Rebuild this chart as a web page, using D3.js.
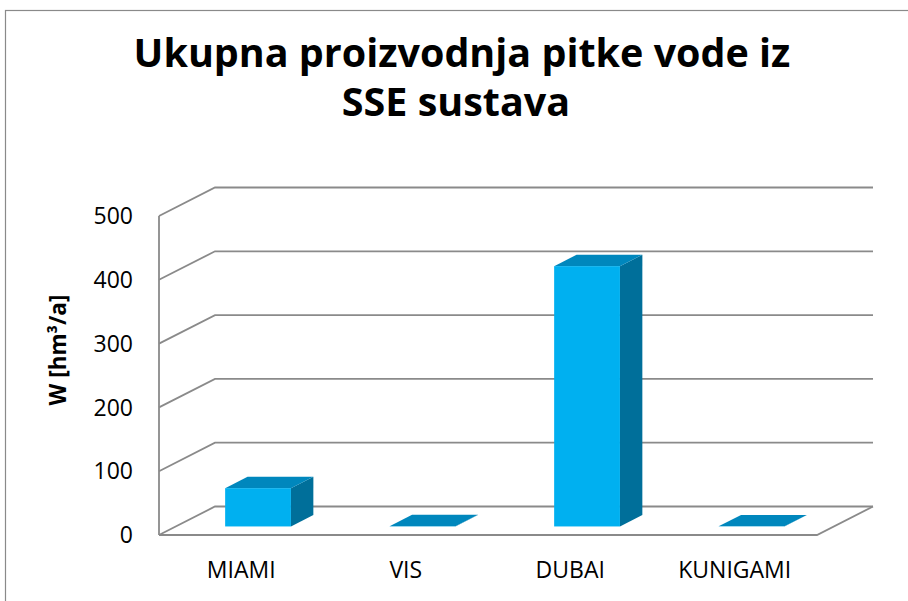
<!DOCTYPE html>
<html>
<head>
<meta charset="utf-8">
<script src="https://cdn.jsdelivr.net/npm/d3@7/dist/d3.min.js"></script>
<style>
  html, body { margin: 0; padding: 0; background: #ffffff; }
  svg { display: block; }
  text { font-family: "Open Sans", "Liberation Sans", sans-serif; fill: #000; }
</style>
</head>
<body>
<svg id="chart" width="908" height="601"></svg>
<script>
// Desalination (SSE) plants and their annual drinking-water output, hm³/a
const categories = ["MIAMI", "VIS", "DUBAI", "KUNIGAMI"];
const production = [60, 0.3, 408, 0.2];
const yTicks = [0, 100, 200, 300, 400, 500];
const titleLines = ["Ukupna proizvodnja pitke vode iz", "SSE sustava"];
const yAxisTitle = "W [hm³/a]";

const svg = d3.select("#chart");

// Plot frame (front plane) and the oblique depth vector of the 3-D box
const front = { left: 159, right: 817, top: 216, bottom: 535 };
const DX = 56, DY = -28.5;           // floor depth, projected
const barDepth = [0.3, 0.7];         // bar occupies the middle of the depth

const y = d3.scaleLinear().domain([0, 500]).range([front.bottom, front.top]);
const x = d3.scaleBand().domain(categories)
  .range([front.left, front.right]).paddingInner(0.6).paddingOuter(0.3);
const slot = d3.scaleBand().domain(categories).range([front.left, front.right]);

const gridColor = "#8a8a8a";

// Chart-area border
svg.append("rect")
  .attr("x", 5.5).attr("y", 10.5).attr("width", 1000).attr("height", 1000)
  .attr("fill", "none").attr("stroke", "#8a8a8a").attr("stroke-width", 1.2);

// Title, fitted to its line width
const title = svg.append("g");
const titleX = [462, 456], titleY = [67, 116];
titleLines.forEach((t, i) => {
  title.append("text")
    .attr("x", titleX[i]).attr("y", titleY[i])
    .attr("text-anchor", "middle")
    .attr("font-weight", 700).attr("font-size", 32)
    .text(t);
});
{
  const first = title.select("text").node();
  const fs = 32 * 657 / first.getComputedTextLength();
  title.selectAll("text").attr("font-size", fs);
}

// Walls: gridlines on the left side wall and on the back wall
const walls = svg.append("g").attr("fill", "none")
  .attr("stroke", gridColor).attr("stroke-width", 1.8);
yTicks.forEach(v => {
  walls.append("polyline").attr("points", [
    [front.left, y(v)],
    [front.left + DX, y(v) + DY],
    [front.right + DX, y(v) + DY]
  ].map(p => p.join(",")).join(" "));
});

// Floor outline and the vertical value axis
walls.append("polyline").attr("points", [
  [front.left, y(0)], [front.right, y(0)], [front.right + DX, y(0) + DY]
].map(p => p.join(",")).join(" "));
walls.append("line")
  .attr("x1", front.left).attr("x2", front.left)
  .attr("y1", y(500)).attr("y2", y(0));

// Value tick labels
svg.append("g").selectAll("text").data(yTicks).join("text")
  .attr("x", 133).attr("y", d => y(d))
  .attr("dy", "0.36em")
  .attr("text-anchor", "end")
  .attr("font-size", 23)
  .text(d => d);

// Axis title
svg.append("text")
  .attr("transform", "translate(66,350) rotate(-90)")
  .attr("text-anchor", "middle")
  .attr("font-weight", 700).attr("font-size", 22.5)
  .text(yAxisTitle);

// 3-D bars: front, top and right-hand faces
const colors = { front: "#00b0f0", top: "#0087bd", side: "#006f9a" };
const bars = svg.append("g");
categories.forEach((c, i) => {
  const v = production[i];
  const x0 = x(c), x1 = x(c) + x.bandwidth();
  const ox0 = barDepth[0] * DX, oy0 = barDepth[0] * DY;
  const ox1 = barDepth[1] * DX, oy1 = barDepth[1] * DY;
  const yt = y(v), yb = y(0);
  const g = bars.append("g");
  const pts = a => a.map(p => p.join(",")).join(" ");
  g.append("polygon").attr("fill", colors.side).attr("points", pts([
    [x1 + ox0, yt + oy0], [x1 + ox1, yt + oy1], [x1 + ox1, yb + oy1], [x1 + ox0, yb + oy0]
  ]));
  g.append("polygon").attr("fill", colors.top).attr("points", pts([
    [x0 + ox0, yt + oy0], [x1 + ox0, yt + oy0], [x1 + ox1, yt + oy1], [x0 + ox1, yt + oy1]
  ]));
  g.append("rect")
    .attr("x", x0 + ox0).attr("y", yt + oy0)
    .attr("width", x1 - x0).attr("height", yb - yt)
    .attr("fill", colors.front);
});

// Category labels under the floor
svg.append("g").selectAll("text").data(categories).join("text")
  .attr("x", d => slot(d) + slot.bandwidth() / 2)
  .attr("y", 578)
  .attr("text-anchor", "middle")
  .attr("font-size", 23)
  .text(d => d);
</script>
</body>
</html>
